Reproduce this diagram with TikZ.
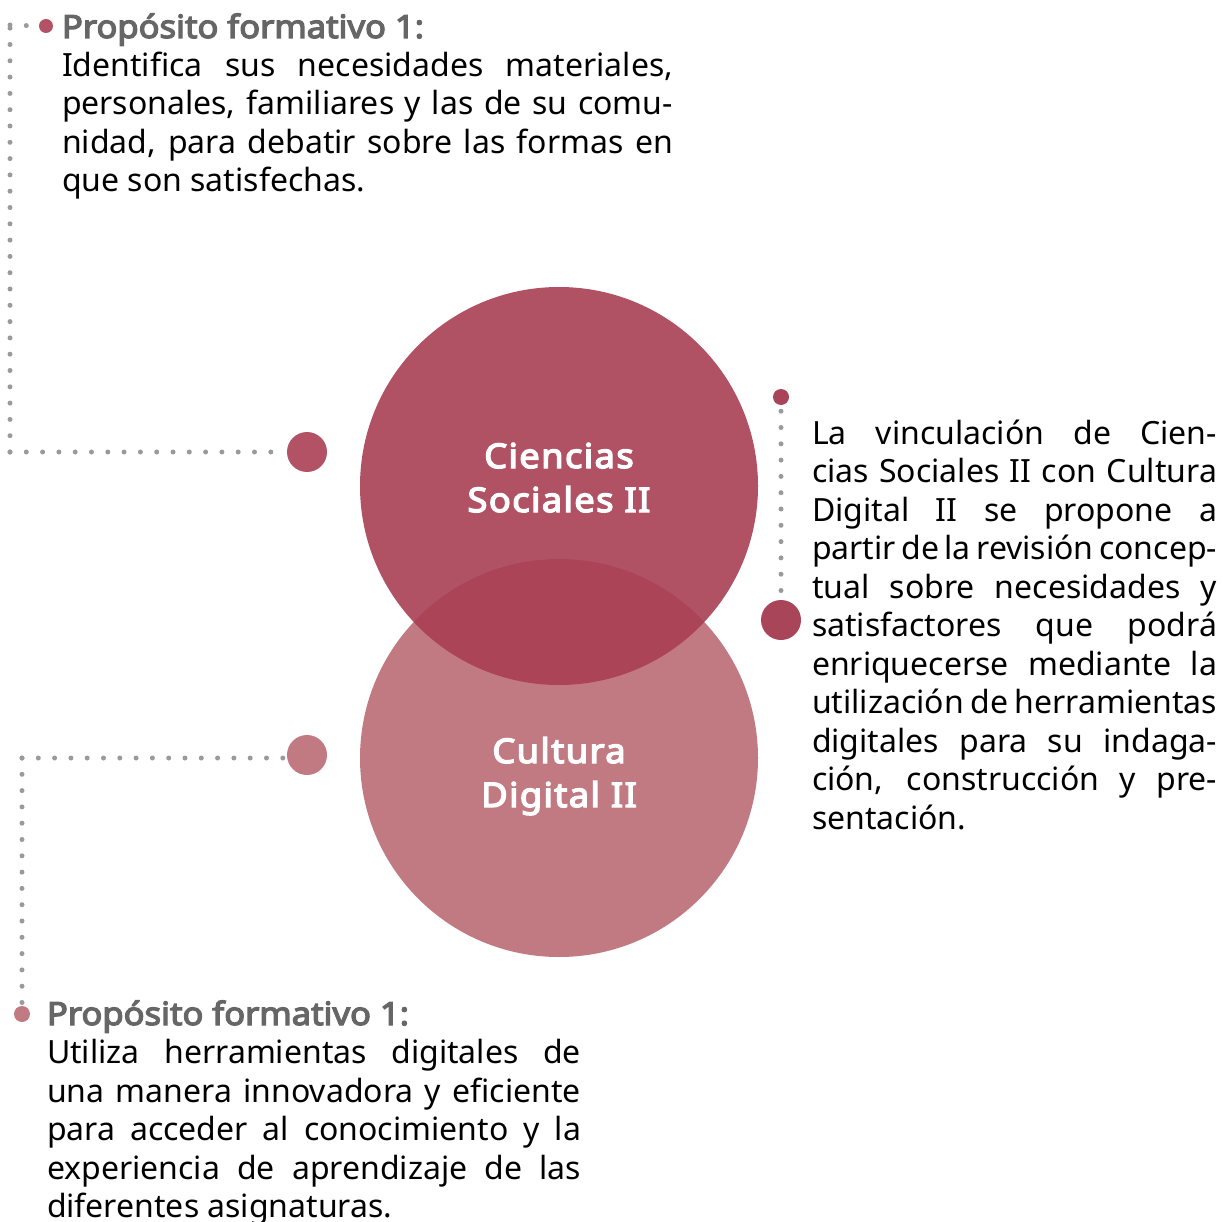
\documentclass[tikz,border=0pt]{standalone}
\usepackage{fontspec}
\setmainfont{Noto Sans}
\newfontfamily\titlefont{Noto Sans}[FakeBold=4, FakeStretch=1.08]
\newfontfamily\circfont{Noto Sans}[FakeBold=4, FakeStretch=1.07, LetterSpace=4]
\definecolor{topcirc}{HTML}{A93F53}
\definecolor{botcirc}{HTML}{C27A82}
\definecolor{dotred}{HTML}{B25264}
\definecolor{dotdark}{HTML}{A94558}
\definecolor{dotgray}{HTML}{9A9A9A}
\definecolor{titlegray}{HTML}{666666}
\tikzset{
  dotline/.style={draw=dotgray, line width=5pt, line cap=round, dash pattern=on 0pt off 16.3pt},
  blob/.style={circle, inner sep=0pt, minimum size=#1, draw=none},
  bigcirc/.style={circle, inner sep=0pt, minimum size=398pt, draw=none},
  circtext/.style={text=white, font=\fontsize{34}{44}\circfont, align=center},
  para/.style={anchor=base west, inner sep=0pt, outer sep=0pt},
}
\newcommand{\bodyfont}{\fontsize{32}{38.5}\selectfont}
\newcommand{\jline}[1]{\makebox[\linewidth][s]{#1}\\}
\newcommand{\ptitle}{{\titlefont\color{titlegray}Propósito formativo 1:}\\}
\begin{document}
\begin{tikzpicture}[x=1pt,y=-1pt]
\useasboundingbox (0,0) rectangle (1223,1222);
% circles
\node[bigcirc, fill=botcirc] (cd) at (559,758) {};
\node[bigcirc, fill=topcirc, fill opacity=0.9] (cs) at (559,486) {};
\node[circtext, anchor=base] (cstext) at (559,512) {Ciencias\\Sociales II};
\node[circtext, anchor=base] (cdtext) at (559,807) {Cultura\\Digital II};
% top-left connector
\node[blob=40pt, fill=dotred] (tlbig) at (307,452) {};
\node[blob=14pt, fill=dotred] (tlsmall) at (46,26) {};
\coordinate (tlc1) at (10,452);
\coordinate (tlc2) at (10,25);
\draw[dotline] (tlc1) -- (tlbig.west);
\draw[dotline] (tlc1) -- (tlc2);
\draw[dotline] (tlc2) -- (tlsmall.west);
% right connector
\node[blob=16pt, fill=dotdark] (rsmall) at (781,397) {};
\node[blob=40pt, fill=dotdark] (rbig) at (781,620) {};
\draw[dotline, shorten <=6pt] (rsmall.south) -- (rbig.north);
% bottom-left connector
\node[blob=40pt, fill=botcirc] (blbig) at (307,755) {};
\node[blob=16pt, fill=botcirc] (blsmall) at (22,1014) {};
\coordinate (blc1) at (22,758);
\draw[dotline] (blc1) -- (blc1 -| blbig.west);
\draw[dotline] (blc1) -- (blsmall.north);
% texts
\node[para] (tltext) at (62,38) {\parbox[t]{611pt}{\bodyfont\leavevmode
\ptitle
\jline{Identifica sus necesidades materiales,}
\jline{personales, familiares y las de su comu-}
\jline{nidad, para debatir sobre las formas en}
que son satisfechas.}};
\node[para] (rtext) at (812,444) {\parbox[t]{405pt}{\bodyfont\leavevmode
\jline{La vinculación de Cien-}
\jline{cias Sociales II con Cultura}
\jline{Digital II se propone a}
\jline{partir de la revisión concep-}
\jline{tual sobre necesidades y}
\jline{satisfactores que podrá}
\jline{enriquecerse mediante la}
\jline{utilización de herramientas}
\jline{digitales para su indaga-}
\jline{ción, construcción y pre-}
sentación.}};
\node[para] (bltext) at (47,1025) {\parbox[t]{534pt}{\bodyfont\leavevmode
\ptitle
\jline{Utiliza herramientas digitales de}
\jline{una manera innovadora y eficiente}
\jline{para acceder al conocimiento y la}
\jline{experiencia de aprendizaje de las}
diferentes asignaturas.}};
\end{tikzpicture}
\end{document}
